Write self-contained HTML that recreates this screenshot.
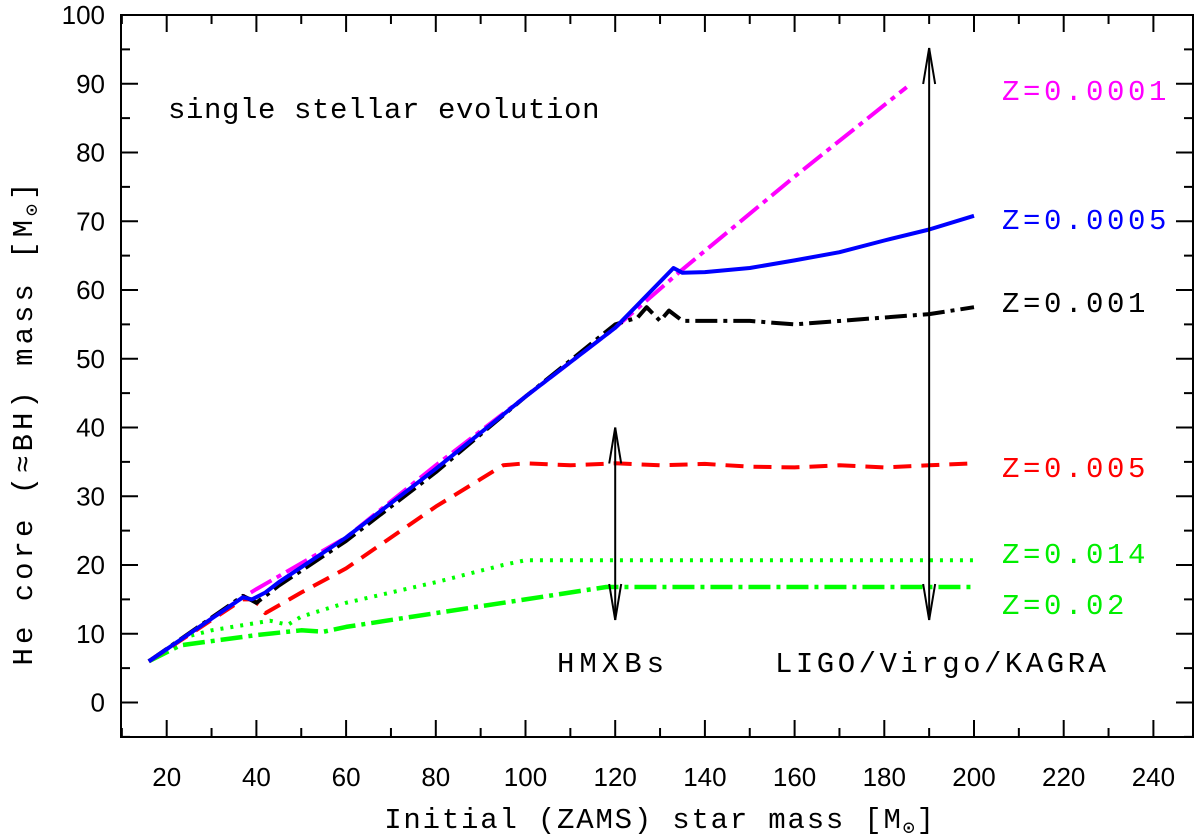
<!DOCTYPE html>
<html><head><meta charset="utf-8"><style>
html,body{margin:0;padding:0;background:#fff;}
svg{display:block;}
.tk{font-family:"Liberation Sans",Arial,sans-serif;font-size:26px;fill:#000;}
.lb{font-family:"Liberation Mono","DejaVu Sans Mono",monospace;font-size:29px;}
</style></head><body>
<svg id="chart" width="1200" height="839" viewBox="0 0 1200 839" xmlns="http://www.w3.org/2000/svg">
<rect x="121" y="15" width="1072" height="722" fill="none" stroke="#000" stroke-width="2"/>
<g id="ticks"></g>
<g id="series"></g>
<text class="lb" x="168" y="118" fill="#000" letter-spacing="0.6">single stellar evolution</text>
<text class="lb" x="1002" y="100" fill="#ff00ff" letter-spacing="3.6">Z=0.0001</text>
<text class="lb" x="1002" y="229" fill="#0000ff" letter-spacing="3.6">Z=0.0005</text>
<text class="lb" x="1002" y="312" fill="#000" letter-spacing="3.6">Z=0.001</text>
<text class="lb" x="1002" y="477" fill="#ff0000" letter-spacing="3.6">Z=0.005</text>
<text class="lb" x="1002" y="563" fill="#00ee00" letter-spacing="3.6">Z=0.014</text>
<text class="lb" x="1002" y="614" fill="#00ee00" letter-spacing="3.6">Z=0.02</text>
<text class="lb" x="557" y="672" fill="#000" letter-spacing="5">HMXBs</text>
<text class="lb" x="775" y="672" fill="#000" letter-spacing="3.5">LIGO/Virgo/KAGRA</text>
<text class="lb" x="660" y="828" text-anchor="middle" fill="#000" letter-spacing="1.8">Initial (ZAMS) star mass [M<tspan font-size="20" dy="6">⊙</tspan><tspan dy="-6">]</tspan></text>
<text class="lb" transform="translate(32,422) rotate(-90)" text-anchor="middle" fill="#000" letter-spacing="4">He core (≈BH) mass [M<tspan font-size="20" dy="6">⊙</tspan><tspan dy="-6">]</tspan></text>
</svg>
<script>
const xTicks=[20,40,60,80,100,120,140,160,180,200,220,240];
const yTicks=[0,10,20,30,40,50,60,70,80,90,100];
const m0001=[[16,6],[37,15.3],[40,16.5],[60,24],[80,34.5],[100,44.5],[120,54.5],[135,63],[160,76.5],[185,89.5]];
const m0005=[[16,6],[37,15.3],[39,15],[42,16],[45,17.5],[60,24],[80,34],[100,44.5],[120,54.5],[133,63.2],[135,62.5],[140,62.6],[150,63.2],[160,64.3],[170,65.5],[180,67.2],[190,68.8],[200,70.8]];
const m001=[[16,6],[37,15.5],[38,15.2],[40,14.5],[45,17],[60,23.5],[80,33.5],[100,44.5],[120,55],[125,56],[127,57.5],[130,55.5],[132,57],[135,55.5],[150,55.5],[160,55],[180,56],[190,56.5],[200,57.5]];
const m005=[[16,6],[37,15],[39,15],[41,14],[42,13],[50,16],[60,19.5],[70,24],[80,28.5],[90,32.5],[95,34.5],[100,34.8],[110,34.5],[120,34.8],[130,34.5],[140,34.7],[150,34.3],[160,34.2],[170,34.5],[180,34.2],[190,34.5],[200,34.8]];
const m014=[[16,6],[24,9.5],[30,10.5],[43,11.9],[47,11.3],[50,12.5],[60,14.5],[80,17.5],[95,20],[100,20.7],[200,20.7]];
const m02=[[16,6],[23,8.3],[25,8.5],[40,9.8],[50,10.5],[55,10.3],[60,11],[80,13],[100,15],[118,16.8],[200,16.8]];
const arrowX=[120,190];
const arrowTop=[40,95.2];
const arrowBot=[12,12];
const NS="http://www.w3.org/2000/svg";
function X(m){return 77+4.485*m;}
function Y(v){return 702.5-6.875*v;}
function mk(tag,attrs,parent){const e=document.createElementNS(NS,tag);for(const k in attrs)e.setAttribute(k,attrs[k]);parent.appendChild(e);return e;}
const tg=document.getElementById('ticks');
for(let m=10;m<=240;m+=10){const maj=m%20===0;const L=maj?17:9;const x=X(m);
 const t1=mk('line',{x1:x,x2:x,y1:737,y2:737-L,stroke:'#000','stroke-width':2},tg);
 
 
 const t2=mk('line',{x1:x,x2:x,y1:15,y2:15+L,stroke:'#000','stroke-width':2},tg);
 
 }
for(let v=-5;v<=100;v+=5){const maj=v%10===0;const L=maj?17:9;const y=Y(v);
 const t1=mk('line',{x1:121,x2:121+L,y1:y,y2:y,stroke:'#000','stroke-width':2},tg);
 
 
 const t2=mk('line',{x1:1193,x2:1193-L,y1:y,y2:y,stroke:'#000','stroke-width':2},tg);
 
 }
xTicks.forEach(m=>{const t=mk('text',{x:X(m),y:786,'text-anchor':'middle',class:'tk'},tg);t.textContent=m;
 
 });
yTicks.forEach(v=>{const t=mk('text',{x:105,y:Y(v)+9,'text-anchor':'end',class:'tk'},tg);t.textContent=v;
 
 });
const sg=document.getElementById('series');
function line(data,color,dash,name,w){const d=data.map((p,i)=>(i?'L':'M')+X(p[0]).toFixed(1)+' '+Y(p[1]).toFixed(1)).join(' ');
 const p=mk('path',{d:d,fill:'none',stroke:color,'stroke-width':w||4,'stroke-dasharray':dash,'stroke-linejoin':'round'},sg);
 
 }
line(m02,'#00ff00','22 6 4 6','series-z02',4.5);
line(m014,'#00ff00','3 7','series-z014',4);
line(m005,'#ff0000','18 10','series-z005',4);
line(m0001,'#ff00ff','24 6 5 6','series-z0001',4);
line(m001,'#000000','22 6 4 6','series-z001',4);
line(m0005,'#0000ff','none','series-z0005',4);
arrowX.forEach((m,i)=>{const x=X(m),y1=Y(arrowTop[i]),y2=Y(arrowBot[i]);
 const g=mk('g',{stroke:'#000','stroke-width':2,fill:'none'},sg);
 
 
 mk('line',{x1:x,x2:x,y1:y1,y2:y2},g);
 mk('path',{d:`M${x-6} ${y1+36} L${x} ${y1} L${x+6} ${y1+36}`},g);
 mk('path',{d:`M${x-6} ${y2-36} L${x} ${y2} L${x+6} ${y2-36}`},g);});
</script>
</body></html>
